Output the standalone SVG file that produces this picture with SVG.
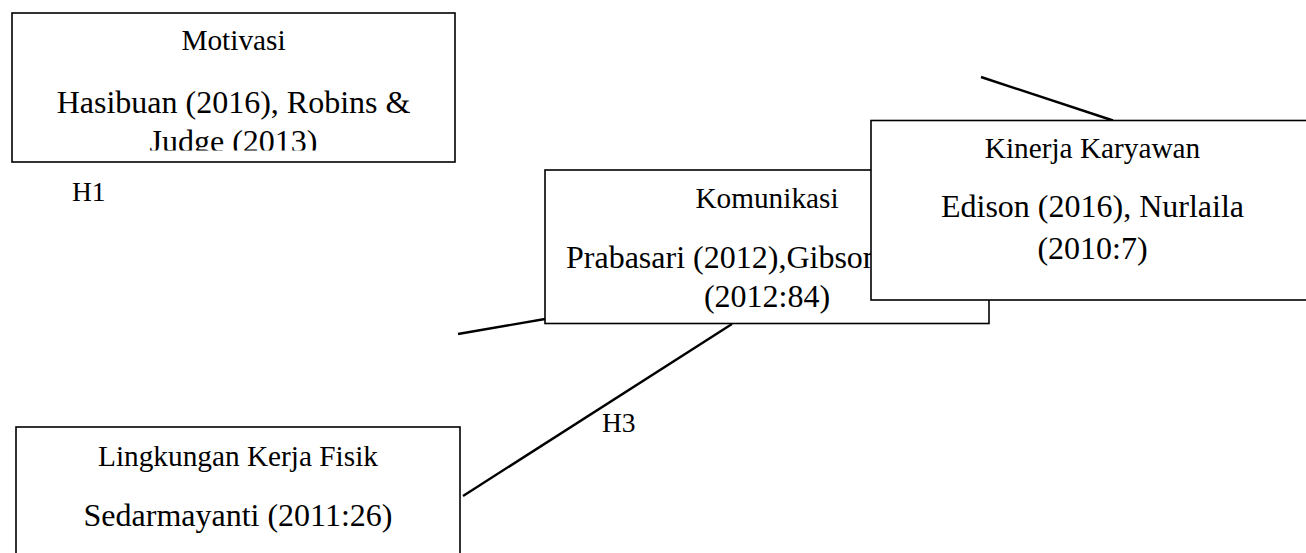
<svg xmlns="http://www.w3.org/2000/svg" width="1306" height="553" viewBox="0 0 1306 553">
<style>
.box{fill:#fff;stroke:#000;stroke-width:1.6}
.hd{font-family:"Liberation Serif","Times New Roman",serif;font-size:29.3px;fill:#000;text-anchor:middle}
.bd{font-family:"Liberation Serif","Times New Roman",serif;font-size:32px;fill:#000;text-anchor:middle}
.lb{font-family:"Liberation Serif","Times New Roman",serif;font-size:27.5px;fill:#000}
.cn{stroke:#000;stroke-width:2.4;fill:none}
</style>
<defs>
<clipPath id="clipMot"><rect x="12" y="13" width="443" height="137.5"/></clipPath>
</defs>
<g id="connectors">
<line class="cn" x1="458" y1="334" x2="545" y2="319"/>
<line class="cn" x1="463" y1="496" x2="732" y2="324"/>
<line class="cn" x1="981" y1="77" x2="1113" y2="120.5"/>
</g>
<g id="motivasi">
<rect class="box" x="12" y="13" width="443" height="149"/>
<g clip-path="url(#clipMot)">
<text class="hd" x="233.5" y="50">Motivasi</text>
<text class="bd" x="233.5" y="113">Hasibuan (2016), Robins &amp;</text>
<text class="bd" x="233.5" y="152">Judge (2013)</text>
</g>
</g>
<g id="label-h1"><text class="lb" x="72" y="201">H1</text></g>
<g id="komunikasi">
<rect class="box" x="545" y="170" width="444" height="153.5"/>
<text class="hd" x="767" y="208">Komunikasi</text>
<text class="bd" x="566" y="268" style="text-anchor:start">Prabasari (2012),Gibson</text>
<text class="bd" x="767" y="307">(2012:84)</text>
</g>
<g id="kinerja">
<rect class="box" x="871" y="120.5" width="443" height="179.5"/>
<text class="hd" x="1092.5" y="157.7">Kinerja Karyawan</text>
<text class="bd" x="1092.5" y="217">Edison (2016), Nurlaila</text>
<text class="bd" x="1092.5" y="259">(2010:7)</text>
</g>
<g id="label-h3"><text class="lb" x="602" y="432">H3</text></g>
<g id="lingkungan">
<rect class="box" x="16" y="427" width="444" height="150"/>
<text class="hd" x="238" y="466">Lingkungan Kerja Fisik</text>
<text class="bd" x="238" y="526">Sedarmayanti (2011:26)</text>
</g>
</svg>
